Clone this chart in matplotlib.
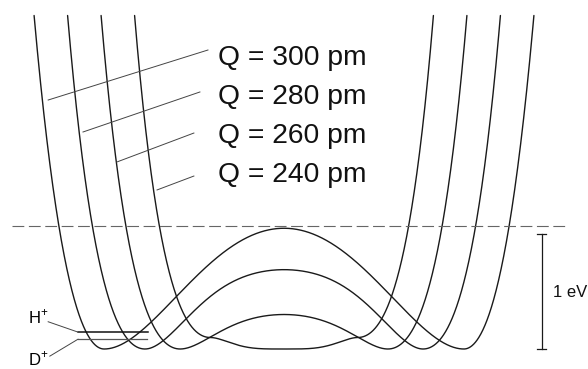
import numpy as np
import matplotlib
matplotlib.use("Agg")
import matplotlib.pyplot as plt

plt.rcParams["font.family"] = ["Liberation Sans", "DejaVu Sans"]
plt.rcParams["mathtext.fontset"] = "custom"
plt.rcParams["mathtext.rm"] = "Liberation Sans"
plt.rcParams["lines.scale_dashes"] = False

# O...O separations and the shape of each proton potential
Q_pm = [300, 280, 260, 240]
barrier_eV = [1.05, 0.69, 0.30, 0.0]        # central barrier height
well_pos_pm = [53.7, 41.5, 31.0, 22.0]      # distance of the well minimum from the midpoint
hump_shape = [0.15, 1.0, 0.8, 0.0]          # broadening of the central hump
rim_eV = [0.0, 0.0, 0.0, 0.10]              # single-well case: rise at the edge of the flat bottom

# repulsive O-H wall: energy reached at a given O-H distance
wall_r_pm = [82.8, 75.4]
wall_E_eV = [1.07, 2.90]

# zero-point levels
level_names = ["H$^{+}$", "D$^{+}$"]
level_eV = [0.15, 0.085]

reference_eV = 1.07   # dashed reference line
scale_eV = 1.0        # scale bar


def solve_wall(t1, t2, e1, e2):
    target = np.sqrt(e1 / e2)
    lo, hi = 1e-6, 1.0
    f = lambda l: np.expm1(l * t1) / np.expm1(l * t2)
    for _ in range(200):
        mid = 0.5 * (lo + hi)
        if f(mid) > target:
            lo = mid
        else:
            hi = mid
    lam = 0.5 * (lo + hi)
    k = e1 / np.expm1(lam * t1) ** 2
    return lam, k


def potential(Q, B, x0, alpha, E):
    d = Q / 2.0
    xmax = d - wall_r_pm[1]
    x = np.linspace(-xmax, xmax, 2001)
    ax_ = np.abs(x)
    u = ax_ / x0
    V = np.empty_like(x)
    inner = ax_ <= x0
    if B > 0:
        V[inner] = B * (1 - u[inner] ** 2) ** 2 * (1 + alpha * u[inner] ** 2)
    else:
        V[inner] = E * (3 * u[inner] ** 4 - 2 * u[inner] ** 6)
    t1 = (d - wall_r_pm[0]) - x0
    t2 = (d - wall_r_pm[1]) - x0
    lam, k = solve_wall(t1, t2, wall_E_eV[0] - E, wall_E_eV[1] - E)
    t = ax_[~inner] - x0
    V[~inner] = E + k * np.expm1(lam * t) ** 2
    return x, V


fig = plt.figure(figsize=(5.88, 3.69), dpi=100)
ax = fig.add_axes([0, 0, 1, 1])
ax.set_xlim(-84.776, 90.746)
ax.set_ylim(-0.1739, 3.0348)
ax.axis("off")

curve_color = "#1a1a1a"
for Q, B, x0, a, E in zip(Q_pm, barrier_eV, well_pos_pm, hump_shape, rim_eV):
    x, V = potential(Q, B, x0, a, E)
    ax.plot(x, V, color=curve_color, lw=1.0, solid_capstyle="round")

# dashed reference energy
ax.plot([-81.2, 84.5], [reference_eV, reference_eV], color="#666666", lw=0.8,
        dashes=(8.5, 3.3))

# 1 eV scale bar
bx = 76.9
ax.plot([bx, bx], [0, scale_eV], color="#1a1a1a", lw=0.9)
for yy in (0, scale_eV):
    ax.plot([bx - 1.35, bx + 1.35], [yy, yy], color="#1a1a1a", lw=0.9)
ax.text(80.3, 0.452, "1 eV", fontsize=12, ha="left", va="baseline", color="#111111")

# Q labels with leader lines
label_xy = [(-19.7, 2.470), (-19.7, 2.130), (-19.7, 1.791), (-19.7, 1.452)]
leaders = [((-70.4, 2.165), (-22.7, 2.600)),
           ((-60.0, 1.887), (-25.1, 2.235)),
           ((-49.9, 1.626), (-26.9, 1.878)),
           ((-37.9, 1.383), (-26.9, 1.504))]
for Q, (tx, ty), (p0, p1) in zip(Q_pm, label_xy, leaders):
    ax.text(tx, ty, f"Q = {Q} pm", fontsize=20.3, ha="left", va="baseline",
            color="#111111")
    ax.plot([p0[0], p1[0]], [p0[1], p1[1]], color="#444444", lw=0.7)

# zero-point levels
ax.plot([-61.5, -40.6], [level_eV[0], level_eV[0]], color="#111111", lw=1.1)
ax.plot([-61.5, -40.9], [level_eV[1], level_eV[1]], color="#555555", lw=0.9)
ax.text(-76.4, 0.226, level_names[0], fontsize=12, ha="left", va="baseline")
ax.text(-76.4, -0.140, level_names[1], fontsize=12, ha="left", va="baseline")
ax.plot([-70.4, -61.8], [0.237, level_eV[0]], color="#444444", lw=0.7)
ax.plot([-69.9, -61.5], [-0.062, level_eV[1]], color="#444444", lw=0.7)

fig.savefig("out.png", dpi=100)
